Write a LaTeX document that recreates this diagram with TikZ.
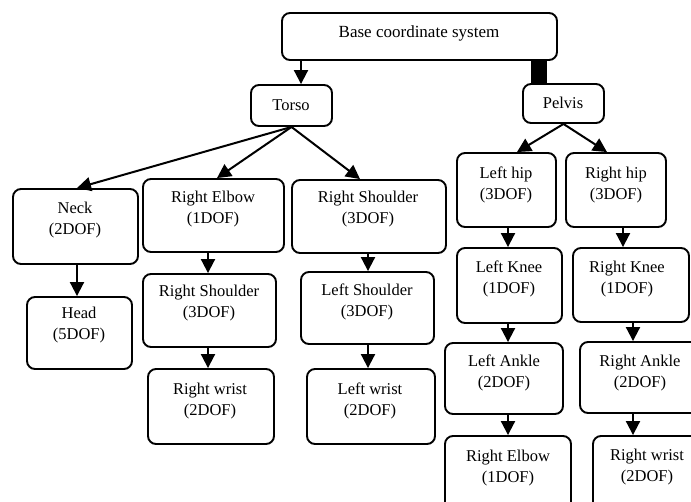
\documentclass[tikz,border=0pt]{standalone}
\usepackage{fontspec}
\setmainfont{Liberation Serif}
\usetikzlibrary{arrows.meta,calc}
\tikzset{
  boxst/.style={draw=black,line width=1.9pt,rounded corners=8pt,inner sep=0pt,fill=white},
  txt/.style={align=center,inner sep=0pt,font=\fontsize{16.5}{20.5}\selectfont},
  arr/.style={line width=2pt,-{Triangle[length=14pt,width=14pt]}},
  barst/.style={line width=16pt}
}
% name, x1, y1, x2, y2, text cx, text cy, text
\newcommand\mybox[8]{%
  \node[boxst,minimum width={#4-#2},minimum height={#5-#3}] (#1) at ({(#2+#4)/2},{(#3+#5)/2}) {};
  \node[txt] (#1t) at (#6,#7) {#8};
}
\newcommand\varr[3]{%
  \coordinate (#1#2x) at (#3,0);
  \draw[arr] (#1.south -| #1#2x) -- (#2.north -| #1#2x);
}
\begin{document}
\begin{tikzpicture}[x=1pt,y=-1pt]
\useasboundingbox (0,0) rectangle (691,501);
\clip (0,0) rectangle (691,501);
\fill[white] (0,0) rectangle (691,501);

\mybox{base}{282}{13}{557}{60}{419}{33}{\fontsize{17}{20}\selectfont Base coordinate system}
\mybox{torso}{251}{85}{332}{126}{291}{105}{Torso}
\mybox{pelvis}{523}{84}{604}{123}{563}{103}{Pelvis}

\mybox{neck}{13}{189}{138}{264}{75}{220}{Neck\\(2DOF)}
\mybox{head}{27}{297}{132}{369}{79}{325}{Head\\(5DOF)}

\mybox{relbow}{143}{179}{284}{252}{213}{209}{Right Elbow\\(1DOF)}
\mybox{rshould}{143}{274}{276}{347}{209}{303}{Right Shoulder\\(3DOF)}
\mybox{rwrist}{148}{369}{274}{444}{210}{401}{Right wrist\\(2DOF)}

\mybox{rshouldb}{292}{180}{446}{253}{368}{209}{Right Shoulder\\(3DOF)}
\mybox{lshould}{301}{272}{434}{344}{367}{302}{Left Shoulder\\(3DOF)}
\mybox{lwrist}{307}{369}{435}{444}{370}{401}{Left wrist\\(2DOF)}

\mybox{lhip}{457}{153}{556}{227}{506}{185}{Left hip\\(3DOF)}
\mybox{lknee}{457}{248}{562}{323}{509}{279}{Left Knee\\(1DOF)}
\mybox{lankle}{445}{343}{563}{414}{504}{373}{Left Ankle\\(2DOF)}
\mybox{relbowb}{445}{436}{571}{512}{508}{468}{Right Elbow\\(1DOF)}

\mybox{rhip}{566}{153}{666}{227}{616}{185}{Right hip\\(3DOF)}
\mybox{rknee}{573}{248}{689}{322}{627}{279}{Right Knee\\(1DOF)}
\mybox{rankle}{580}{342}{702}{413}{640}{373}{Right Ankle\\(2DOF)}
\mybox{rwristb}{593}{436}{702}{512}{647}{467}{Right wrist\\(2DOF)}

% base connections
\varr{base}{torso}{301}
\coordinate (barx) at (539,0);
\draw[barst] (base.south -| barx) -- (pelvis.north -| barx);

% torso fan
\draw[arr] (torso.south) -- ($(neck.north)+(1.5,0)$);
\draw[arr] (torso.south) -- ($(relbow.north)+(3.5,0)$);
\draw[arr] (torso.south) -- ($(rshouldb.north)+(-9,0)$);

% pelvis fan
\draw[arr] (pelvis.south) -- ($(lhip.north)+(10.5,0)$);
\draw[arr] (pelvis.south) -- ($(rhip.north)+(-9,0)$);

% chains
\varr{neck}{head}{77}
\varr{relbow}{rshould}{208}
\varr{rshould}{rwrist}{208}
\varr{rshouldb}{lshould}{368}
\varr{lshould}{lwrist}{368}
\varr{lhip}{lknee}{508}
\varr{lknee}{lankle}{508}
\varr{lankle}{relbowb}{508}
\varr{rhip}{rknee}{623}
\varr{rknee}{rankle}{633}
\varr{rankle}{rwristb}{633}
\end{tikzpicture}
\end{document}
